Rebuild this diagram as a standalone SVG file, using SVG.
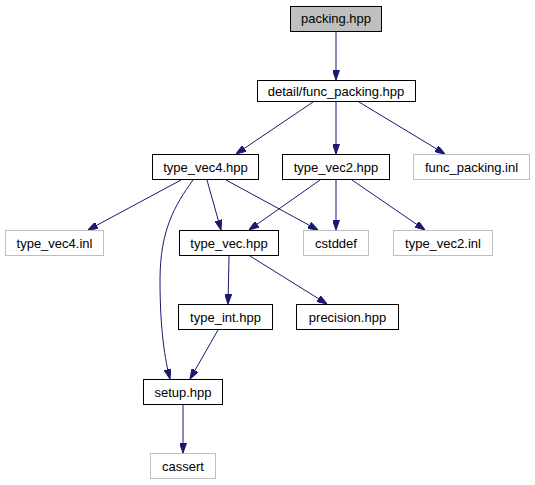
<svg xmlns="http://www.w3.org/2000/svg" width="535" height="485" viewBox="0 0 535 485">
<style>
.n rect{fill:#ffffff;stroke:#000000;stroke-width:1}
.g rect{fill:#ffffff;stroke:#bfbfbf;stroke-width:1}
.root rect{fill:#bfbfbf;stroke:#000000;stroke-width:1}
text{font-family:"Liberation Sans",Arial,Helvetica,sans-serif;font-size:13px;text-anchor:middle;fill:#000000}
.e path{fill:none;stroke:#191970;stroke-width:1;marker-end:url(#ah)}
</style>
<defs>
<marker id="ah" viewBox="0 0 10 7" refX="10" refY="3.5" markerWidth="10" markerHeight="7" markerUnits="userSpaceOnUse" orient="auto">
<path d="M0,0 L10,3.5 L0,7 z" fill="#191970" stroke="#191970"/>
</marker>
</defs>
<g id="edges" class="e">
<path d="M336,32 L336,80"/>
<path d="M313,102 L236,154"/>
<path d="M336,102 L336,154"/>
<path d="M359,102 L445,154"/>
<path d="M181,180 L88,230"/>
<path d="M207,180 L221,230"/>
<path d="M226,180 L318,230"/>
<path d="M193,180 C175,205 160,230 160,280 C160,330 165,360 170,379"/>
<path d="M320,180 L249,230"/>
<path d="M336,180 L336,230"/>
<path d="M352,180 L425,230"/>
<path d="M229,256 L228,304"/>
<path d="M250,256 L327,304"/>
<path d="M218,330 L190,379"/>
<path d="M183,404 L183,453"/>
</g>
<g id="packing_hpp" class="root"><rect x="290.5" y="6.5" width="91" height="25"/><text x="336" y="23">packing.hpp</text></g>
<g id="func_packing_hpp" class="n"><rect x="257.5" y="80.5" width="158" height="21"/><text x="336" y="95.5">detail/func_packing.hpp</text></g>
<g id="type_vec4_hpp" class="n"><rect x="152.5" y="154.5" width="106" height="25"/><text x="205.5" y="171.5">type_vec4.hpp</text></g>
<g id="type_vec2_hpp" class="n"><rect x="282.5" y="154.5" width="107" height="25"/><text x="336" y="171.5">type_vec2.hpp</text></g>
<g id="func_packing_inl" class="g"><rect x="413.5" y="154.5" width="116" height="25"/><text x="471.5" y="171.5">func_packing.inl</text></g>
<g id="type_vec4_inl" class="g"><rect x="5.5" y="230.5" width="98" height="25"/><text x="54.5" y="247.5">type_vec4.inl</text></g>
<g id="type_vec_hpp" class="n"><rect x="179.5" y="230.5" width="99" height="25"/><text x="229" y="247.5">type_vec.hpp</text></g>
<g id="cstddef" class="g"><rect x="303.5" y="230.5" width="65" height="25"/><text x="336" y="247.5">cstddef</text></g>
<g id="type_vec2_inl" class="g"><rect x="393.5" y="230.5" width="99" height="25"/><text x="443" y="247.5">type_vec2.inl</text></g>
<g id="type_int_hpp" class="n"><rect x="178.5" y="304.5" width="94" height="25"/><text x="225.5" y="321.5">type_int.hpp</text></g>
<g id="precision_hpp" class="n"><rect x="296.5" y="304.5" width="102" height="25"/><text x="347.5" y="321.5">precision.hpp</text></g>
<g id="setup_hpp" class="n"><rect x="143.5" y="379.5" width="79" height="25"/><text x="183" y="396.5">setup.hpp</text></g>
<g id="cassert" class="g"><rect x="150.5" y="453.5" width="65" height="25"/><text x="183" y="470.5">cassert</text></g>
</svg>
